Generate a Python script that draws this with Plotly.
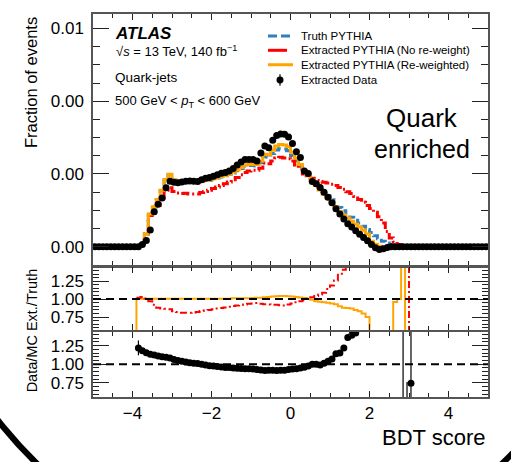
import numpy as np
import plotly.graph_objects as go

# ---------------- data ----------------
X_MIN, X_MAX = -5.0, 5.0
BIN_WIDTH = 0.1
N_BINS = 100
FIRST_FILLED_BIN = 10          # the arrays below start at bin centre -3.95 and end at 3.05

# main panel, fraction of events in units of 1e-3
truth_1e3 = [0.00, 0.02, 0.08, 0.35, 0.89, 1.09, 1.29, 1.54, 1.84, 1.98,
             1.83, 1.80, 1.80, 1.81, 1.79, 1.78, 1.77, 1.79, 1.81, 1.83,
             1.86, 1.89, 1.92, 1.95, 1.99, 2.03, 2.09, 2.15, 2.21, 2.23,
             2.23, 2.22, 2.31, 2.48, 2.46, 2.56, 2.66, 2.70, 2.69, 2.64,
             2.51, 2.36, 2.21, 2.05, 1.96, 1.86, 1.74, 1.62, 1.51, 1.40,
             1.29, 1.18, 1.08, 0.99, 0.90, 0.81, 0.73, 0.65, 0.56, 0.47,
             0.39, 0.30, 0.22, 0.15, 0.10, 0.06, 0.04, 0.02, 0.01, 0.005,
             0.003]
reweighted_1e3 = [0.00, 0.02, 0.08, 0.35, 0.90, 1.10, 1.30, 1.55, 1.85, 1.99,
                  1.84, 1.81, 1.81, 1.82, 1.80, 1.79, 1.78, 1.80, 1.82, 1.84,
                  1.87, 1.90, 1.93, 1.96, 2.00, 2.05, 2.11, 2.18, 2.24, 2.26,
                  2.26, 2.26, 2.36, 2.54, 2.53, 2.65, 2.77, 2.81, 2.80, 2.75,
                  2.60, 2.43, 2.26, 2.08, 1.97, 1.84, 1.69, 1.56, 1.44, 1.33,
                  1.21, 1.10, 0.97, 0.87, 0.79, 0.70, 0.62, 0.54, 0.45, 0.35,
                  0.15, 0.07, 0.01, -0.03, -0.03, 0.00, 0.04, 0.02, 0.03, 0.00,
                  0.00]
noreweight_1e3 = [0.00, 0.02, 0.08, 0.35, 0.86, 1.00, 1.13, 1.34, 1.55, 1.62,
                  1.52, 1.48, 1.46, 1.47, 1.45, 1.45, 1.45, 1.49, 1.52, 1.55,
                  1.60, 1.64, 1.68, 1.73, 1.78, 1.84, 1.90, 1.98, 2.04, 2.08,
                  2.10, 2.10, 2.16, 2.30, 2.28, 2.36, 2.44, 2.46, 2.44, 2.42,
                  2.36, 2.25, 2.14, 2.00, 1.95, 1.88, 1.82, 1.79, 1.77, 1.75,
                  1.72, 1.68, 1.63, 1.58, 1.51, 1.46, 1.38, 1.30, 1.22, 1.13,
                  1.05, 0.95, 0.82, 0.65, 0.42, 0.24, 0.13, 0.06, 0.03, 0.01,
                  0.00]
data_1e3 = [0.00, 0.00, 0.06, 0.17, 0.46, 0.96, 1.17, 1.34, 1.62, 1.80,
            1.77, 1.76, 1.78, 1.80, 1.81, 1.80, 1.79, 1.84, 1.88, 1.90,
            1.94, 1.98, 2.02, 2.04, 2.08, 2.15, 2.25, 2.33, 2.40, 2.40,
            2.40, 2.36, 2.58, 2.77, 2.72, 2.93, 3.06, 3.10, 3.09, 3.02,
            2.84, 2.61, 2.45, 2.08, 2.01, 1.79, 1.73, 1.63, 1.50, 1.36,
            1.21, 1.04, 0.90, 0.76, 0.63, 0.54, 0.44, 0.34, 0.25, 0.16,
            0.06, -0.03, -0.08, -0.06, -0.02, 0.00, 0.00, 0.00, 0.00, 0.00,
            0.00]

# ratio panel 1: extracted / truth
ratio_reweighted = [0.0, 1.004, 1.004, 1.004, 1.004, 1.004, 1.004, 1.004, 1.004, 1.004,
                    1.004, 1.004, 1.004, 1.004, 1.004, 1.006, 1.006, 1.006, 1.006, 1.006,
                    1.006, 1.006, 1.006, 1.006, 1.006, 1.012, 1.012, 1.012, 1.012, 1.012,
                    1.015, 1.018, 1.020, 1.025, 1.030, 1.035, 1.040, 1.042, 1.042, 1.040,
                    1.038, 1.030, 1.022, 1.015, 1.005, 0.990, 0.970, 0.965, 0.955, 0.950,
                    0.940, 0.930, 0.900, 0.880, 0.875, 0.870, 0.850, 0.830, 0.800, 0.750,
                    0.300, 0.300, 0.300, 0.300, 0.300, 0.300, 0.960, 1.000, 3.000, 0.000,
                    np.nan]
ratio_noreweight = [np.nan, 1.02, 1.03, 1.01, 0.97, 0.92, 0.88, 0.87, 0.865, 0.86,
                    0.83, 0.82, 0.81, 0.81, 0.81, 0.815, 0.82, 0.835, 0.84, 0.85,
                    0.86, 0.87, 0.875, 0.885, 0.895, 0.905, 0.91, 0.92, 0.925, 0.935,
                    0.94, 0.945, 0.935, 0.93, 0.925, 0.92, 0.92, 0.915, 0.91, 0.925,
                    0.94, 0.955, 0.97, 0.985, 1.005, 1.025, 1.045, 1.065, 1.09, 1.14,
                    1.19, 1.26, 1.34, 1.41, 1.50, 1.60, 1.70, 1.90, 2.10, 2.40,
                    2.80, 3.20, 3.80, 4.50, 5.50, 7.00, 9.00, 12.0, 16.0, 20.0,
                    0.0]

# ratio panel 2: Data / MC
ratio_data = [np.nan, 1.22, 1.18, 1.155, 1.135, 1.125, 1.11, 1.10, 1.095, 1.085,
              1.065, 1.05, 1.04, 1.03, 1.02, 1.015, 1.01, 1.00, 0.99, 0.98,
              0.975, 0.97, 0.963, 0.958, 0.955, 0.95, 0.946, 0.942, 0.94, 0.94,
              0.935, 0.93, 0.922, 0.915, 0.918, 0.918, 0.915, 0.918, 0.92, 0.928,
              0.935, 0.94, 0.95, 0.96, 0.975, 1.00, 1.00, 0.99, 1.015, 1.04,
              1.07, 1.14, 1.15, 1.22, 1.36, 1.39, 1.42, np.nan, np.nan, np.nan,
              np.nan, np.nan, np.nan, np.nan, np.nan, np.nan, np.nan, np.nan, 0.20, 0.40,
              0.745]
ratio_data_err = [0.0, 0.10, 0.02, 0.01, 0.01, 0.01, 0.01, 0.01, 0.01, 0.01,
                  0.01, 0.01, 0.01, 0.01, 0.01, 0.01, 0.01, 0.01, 0.01, 0.01,
                  0.01, 0.01, 0.01, 0.01, 0.01, 0.01, 0.01, 0.01, 0.01, 0.01,
                  0.01, 0.01, 0.01, 0.01, 0.01, 0.01, 0.01, 0.01, 0.01, 0.01,
                  0.01, 0.01, 0.01, 0.01, 0.01, 0.01, 0.01, 0.01, 0.01, 0.01,
                  0.01, 0.01, 0.01, 0.01, 0.02, 0.02, 0.02, 0.0, 0.0, 0.0,
                  0.0, 0.0, 0.0, 0.0, 0.0, 0.0, 0.0, 0.0, 2.0, 0.36,
                  1.0]

main_ticks = [0.0, 0.002, 0.004, 0.006]
ratio_ticks = [0.75, 1.00, 1.25]
x_ticks = [-4, -2, 0, 2, 4]

# ---------------- helpers ----------------
centers = np.round(X_MIN + BIN_WIDTH * (np.arange(N_BINS) + 0.5), 4)
edges = np.round(X_MIN + BIN_WIDTH * np.arange(N_BINS + 1), 4)


def full(arr, fill, scale=1.0):
    out = np.full(N_BINS, fill, dtype=float)
    out[FIRST_FILLED_BIN:FIRST_FILLED_BIN + len(arr)] = np.asarray(arr, dtype=float) * scale
    return out


def step(vals):
    return list(edges), list(vals) + [vals[-1]]


truth = full(truth_1e3, 0.0, 1e-3)
rew = full(reweighted_1e3, 0.0, 1e-3)
norew = full(noreweight_1e3, 0.0, 1e-3)
data = full(data_1e3, 0.0, 1e-3)
r_rew = full(ratio_reweighted, np.nan)
r_norew = full(ratio_noreweight, np.nan)
r_data = full(ratio_data, np.nan)
r_data_err = full(ratio_data_err, 0.0)

BLUE = "#2f7fc1"
RED = "#ff0000"
ORANGE = "#ffa500"
FONT = "Liberation Sans, Arial, sans-serif"

# plot-area pixel helpers (layout positions only)
L, R, T, B, W, H = 93, 23, 12, 65, 511, 462
PW, PH = W - L - R, H - T - B


def px(xp):
    return (xp - L) / PW


def py(yp):
    return (H - B - yp) / PH


fig = go.Figure()

# main panel
for vals, color, dash, width in [(truth, BLUE, "7px,4px", 3),
                                  (norew, RED, "9px,3px,2px,3px", 3),
                                  (rew, ORANGE, "solid", 3)]:
    sx, sy = step(vals)
    fig.add_trace(go.Scatter(x=sx, y=sy, mode="lines", line=dict(shape="hv", color=color, dash=dash, width=width),
                             xaxis="x", yaxis="y", showlegend=False, hoverinfo="skip"))
fig.add_trace(go.Scatter(x=centers, y=data, mode="markers", marker=dict(size=7, color="black"),
                         xaxis="x", yaxis="y", showlegend=False))

# ratio panel 1
sx, sy = step(r_rew)
fig.add_trace(go.Scatter(x=sx, y=sy, mode="lines", line=dict(shape="hv", color=ORANGE, width=2),
                         xaxis="x2", yaxis="y2", showlegend=False))
sx, sy = step(r_norew)
fig.add_trace(go.Scatter(x=sx, y=sy, mode="lines", line=dict(shape="hv", color=RED, width=2, dash="7px,3px,2px,3px"),
                         xaxis="x2", yaxis="y2", showlegend=False))

# ratio panel 2
fig.add_trace(go.Scatter(x=centers, y=r_data, mode="markers", marker=dict(size=7, color="black"),
                         error_y=dict(type="data", array=r_data_err, color="black", thickness=1.2, width=0),
                         xaxis="x3", yaxis="y3", showlegend=False))

AX_LINE = "#555555"
TICKC = "#222222"
common_x = dict(range=[X_MIN, X_MAX], showgrid=False, zeroline=False, showline=True, linecolor=AX_LINE,
                linewidth=1.5, mirror="ticks", ticks="inside", ticklen=6, tickcolor=TICKC, tickwidth=1,
                tickvals=x_ticks, minor=dict(dtick=0.5, ticks="inside", ticklen=4, tickcolor=TICKC),
                tickfont=dict(size=17, family=FONT, color="black"))
common_y = dict(showgrid=False, zeroline=False, showline=True, linecolor=AX_LINE, linewidth=1.5,
                mirror="ticks", ticks="inside", ticklen=16, tickcolor=TICKC, tickwidth=1,
                tickfont=dict(size=17, family=FONT, color="black"), ticklabelstandoff=4)

fig.update_layout(
    width=W, height=H, margin=dict(l=L, r=R, t=T, b=B),
    paper_bgcolor="white", plot_bgcolor="white",
    font=dict(family=FONT, color="black"),
    xaxis=dict(common_x, domain=[0, 1], anchor="y", showticklabels=False),
    yaxis=dict(common_y, domain=[0.345, 1.0], range=[-0.0005, 0.0064], tickvals=main_ticks,
               tickformat=".2f", minor=dict(dtick=0.0005, ticks="inside", ticklen=7, tickcolor=TICKC)),
    xaxis2=dict(common_x, domain=[0, 1], anchor="y2", matches="x", showticklabels=False),
    yaxis2=dict(common_y, domain=[0.175, 0.338], range=[0.57, 1.44], tickvals=ratio_ticks,
                tickformat=".2f", minor=dict(dtick=0.05, ticks="inside", ticklen=6, tickcolor=TICKC)),
    xaxis3=dict(common_x, domain=[0, 1], anchor="y3", matches="x", showticklabels=True, ticklabelstandoff=0),
    yaxis3=dict(common_y, domain=[0.0, 0.17], range=[0.56, 1.435], tickvals=ratio_ticks,
                tickformat=".2f", minor=dict(dtick=0.05, ticks="inside", ticklen=6, tickcolor=TICKC)),
)

shapes = []
for yref, xref in [("y2", "x2 domain"), ("y3", "x3 domain")]:
    shapes.append(dict(type="line", xref=xref, yref=yref, x0=0, x1=1, y0=1, y1=1,
                       line=dict(color="black", width=2, dash="8px,5px")))

# legend symbols
shapes.append(dict(type="line", xref="paper", yref="paper", x0=px(268), x1=px(293), y0=py(34), y1=py(34),
                   line=dict(color=BLUE, width=3, dash="9px,4px")))
shapes.append(dict(type="line", xref="paper", yref="paper", x0=px(268), x1=px(287), y0=py(48.5), y1=py(48.5),
                   line=dict(color=RED, width=3)))
shapes.append(dict(type="line", xref="paper", yref="paper", x0=px(268), x1=px(293), y0=py(63), y1=py(63),
                   line=dict(color=ORANGE, width=3)))
shapes.append(dict(type="line", xref="paper", yref="paper", x0=px(280), x1=px(280), y0=py(72.5), y1=py(84),
                   line=dict(color="black", width=1.2)))
shapes.append(dict(type="circle", xref="paper", yref="paper", x0=px(276.5), x1=px(283.5), y0=py(74.8),
                   y1=py(81.8), fillcolor="black", line=dict(color="black", width=0)))
# dark elliptical rim seen only in the bottom corners of the picture
RIM_CX, RIM_CY, RIM_RX, RIM_RY = 269.5, 100, 376.2, 463
shapes.append(dict(type="circle", xref="paper", yref="paper",
                   x0=px(RIM_CX - RIM_RX), x1=px(RIM_CX + RIM_RX),
                   y0=py(RIM_CY + RIM_RY), y1=py(RIM_CY - RIM_RY),
                   line=dict(color="black", width=6), layer="above"))
fig.update_layout(shapes=shapes)

ann = []


def text(x, y, s, size, xanchor="left", yanchor="middle", angle=0, color="black"):
    ann.append(dict(x=x, y=y, xref="paper", yref="paper", text=s, showarrow=False, xanchor=xanchor,
                    yanchor=yanchor, textangle=angle, font=dict(size=size, family=FONT, color=color)))


text(px(113), py(31.5), "<b><i>ATLAS</i></b>", 17)
text(px(114), py(49), "\u221a<i>s</i> = 13 TeV, 140 fb<sup>\u22121</sup>", 13)
text(px(113), py(76), "Quark-jets", 13.5)
text(px(113), py(100), "500 GeV &lt; <i>p</i><sub>T</sub> &lt; 600 GeV", 13)
text(px(299), py(34), "Truth PYTHIA", 11.5)
text(px(299), py(48.5), "Extracted PYTHIA (No re-weight)", 11.5)
text(px(299), py(63), "Extracted PYTHIA (Re-weighted)", 11.5)
text(px(299), py(78.5), "Extracted Data", 11.5)
text(px(421.5), py(117), "Quark", 26, xanchor="center")
text(px(421.5), py(148), "enriched", 25, xanchor="center")
text(px(488), py(438), "BDT score", 22, xanchor="right")
text(px(31.5), py(13), "Fraction of events", 16.5, xanchor="center", yanchor="top", angle=-90)
text(px(32), py(330), "Data/MC Ext./Truth", 14.5, xanchor="center", yanchor="middle", angle=-90)
fig.update_layout(annotations=ann)

fig.write_html("out.html", config={"displayModeBar": False},
               post_script="document.body.style.margin='0px';document.body.style.overflow='hidden';")
